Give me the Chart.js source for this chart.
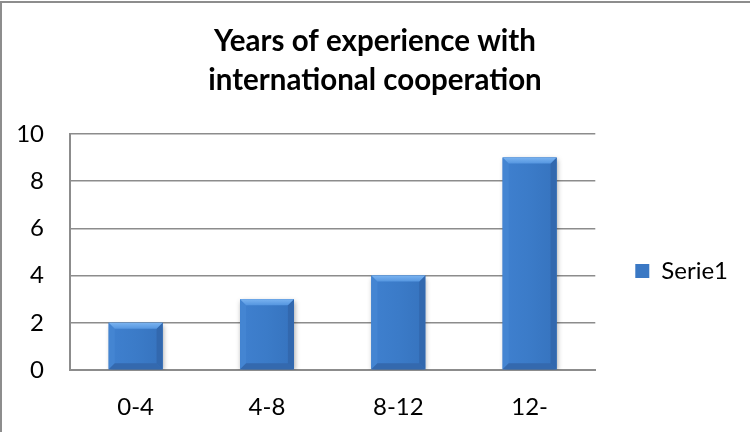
<!DOCTYPE html>
<html lang="en">
<head>
    <meta charset="UTF-8">
    <script src="https://cdn.jsdelivr.net/npm/chart.js"></script>
    <title>Years of experience</title>
    <style>
        body {
            margin: 0;
            background: #ffffff;
            overflow: hidden;
        }

        .wrap {
            position: relative;
            width: 750px;
            height: 432px;
        }

        .wrap canvas {
            position: absolute;
            left: 0;
            top: 0;
        }

        /* chart frame, only the left and top edges fall inside the page */
        .frame {
            position: absolute;
            left: 0;
            top: 1px;
            width: 800px;
            height: 500px;
            border-left: 2px solid #8d8d8d;
            border-top: 2px solid #8d8d8d;
            pointer-events: none;
        }
    </style>
</head>
<body>

    <div class="wrap">
        <canvas id="expChart" width="750" height="432"></canvas>
        <div class="frame"></div>
    </div>

    <script>
        const categories = ["0-4", "4-8", "8-12", "12-"];
        const serie1 = [2, 3, 4, 9];
        const yTicks = [0, 2, 4, 6, 8, 10];

        const titleLines = ["Years of experience with", "international cooperation"];
        const fontFamily = "Lato, 'Open Sans', sans-serif";
        const gridColor = "#8c8c8c";

        // shadow under the bars plus a beveled look painted over each bar
        const bevelPlugin = {
            id: "bevel",
            beforeDatasetDraw(chart) {
                const ctx = chart.ctx;
                ctx.save();
                ctx.shadowColor = "rgba(0, 0, 0, 0.35)";
                ctx.shadowBlur = 5;
                ctx.shadowOffsetX = 1;
                ctx.shadowOffsetY = 2;
            },
            afterDatasetDraw(chart) {
                const ctx = chart.ctx;
                ctx.restore();
                const meta = chart.getDatasetMeta(0);
                meta.data.forEach(bar => {
                    const l = bar.x - bar.width / 2;
                    const r = bar.x + bar.width / 2;
                    const t = bar.y;
                    const b = bar.base;
                    const e = 6;

                    const body = ctx.createLinearGradient(l, 0, r, 0);
                    body.addColorStop(0, "#3f80cf");
                    body.addColorStop(0.5, "#3b7bc8");
                    body.addColorStop(1, "#3673be");
                    ctx.fillStyle = body;
                    ctx.fillRect(l, t, r - l, b - t);

                    // left side
                    ctx.fillStyle = "#4485d2";
                    ctx.beginPath();
                    ctx.moveTo(l, t); ctx.lineTo(l + e, t + e);
                    ctx.lineTo(l + e, b - e); ctx.lineTo(l, b);
                    ctx.closePath(); ctx.fill();

                    // right side
                    ctx.fillStyle = "#3268ae";
                    ctx.beginPath();
                    ctx.moveTo(r, t); ctx.lineTo(r - e, t + e);
                    ctx.lineTo(r - e, b - e); ctx.lineTo(r, b);
                    ctx.closePath(); ctx.fill();

                    // bottom
                    ctx.fillStyle = "#3469ae";
                    ctx.beginPath();
                    ctx.moveTo(l, b); ctx.lineTo(l + e, b - e);
                    ctx.lineTo(r - e, b - e); ctx.lineTo(r, b);
                    ctx.closePath(); ctx.fill();

                    // top
                    const top = ctx.createLinearGradient(0, t, 0, t + e);
                    top.addColorStop(0, "#7ab3f0");
                    top.addColorStop(1, "#5596e0");
                    ctx.fillStyle = top;
                    ctx.beginPath();
                    ctx.moveTo(l, t); ctx.lineTo(r, t);
                    ctx.lineTo(r - e, t + e); ctx.lineTo(l + e, t + e);
                    ctx.closePath(); ctx.fill();
                });
            }
        };

        const ctx = document.getElementById("expChart").getContext("2d");
        new Chart(ctx, {
            type: "bar",
            data: {
                labels: categories,
                datasets: [{
                    label: "Serie1",
                    data: serie1,
                    backgroundColor: "#3a78c4",
                    borderWidth: 0,
                    categoryPercentage: 1,
                    barPercentage: 0.41
                }]
            },
            plugins: [bevelPlugin],
            options: {
                responsive: false,
                animation: false,
                layout: {
                    padding: { left: 12, right: 12, top: 0, bottom: 0 }
                },
                plugins: {
                    title: {
                        display: true,
                        text: titleLines,
                        color: "#000000",
                        font: { family: fontFamily, size: 29.5, weight: "bold", lineHeight: 1.32 },
                        padding: { top: 22, bottom: 34 }
                    },
                    legend: {
                        position: "right",
                        // empty title only pushes the entry down
                        title: {
                            display: true,
                            text: "",
                            font: { size: 10, lineHeight: 1 },
                            padding: { top: 100, bottom: 0 }
                        },
                        labels: {
                            color: "#000000",
                            font: { family: fontFamily, size: 24 },
                            boxWidth: 14,
                            boxHeight: 14,
                            padding: 40
                        }
                    },
                    tooltip: { enabled: false }
                },
                scales: {
                    x: {
                        grid: { display: false, drawTicks: false },
                        border: { display: true, color: gridColor, width: 2 },
                        ticks: {
                            color: "#000000",
                            font: { family: fontFamily, size: 24 },
                            padding: 23
                        },
                        afterFit(scale) { scale.height = 62; }
                    },
                    y: {
                        min: 0,
                        max: 10,
                        afterBuildTicks(scale) {
                            scale.ticks = yTicks.map(v => ({ value: v }));
                        },
                        grid: { color: gridColor, lineWidth: 1.5, drawTicks: false },
                        border: { display: true, color: gridColor, width: 2 },
                        ticks: {
                            color: "#000000",
                            font: { family: fontFamily, size: 24 },
                            padding: 26
                        },
                        afterFit(scale) { scale.width = 58; }
                    }
                }
            }
        });
    </script>

</body>
</html>
